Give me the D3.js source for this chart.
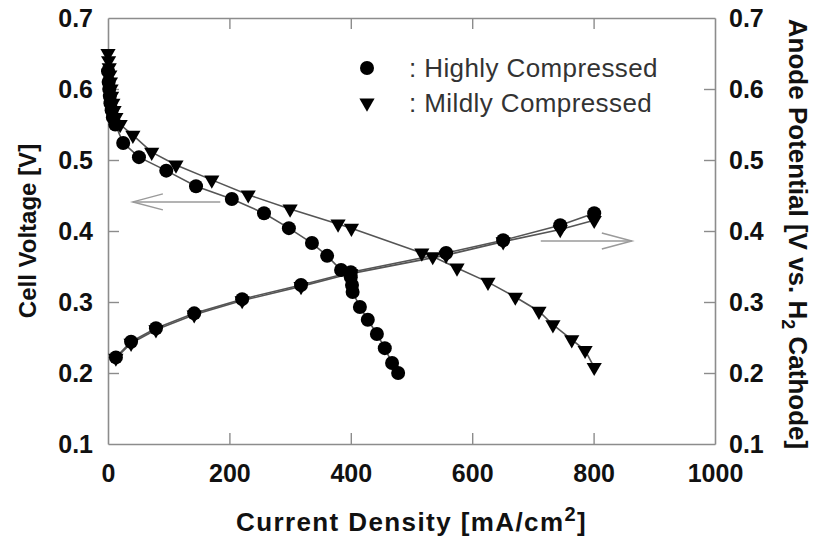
<!DOCTYPE html>
<html>
<head>
<meta charset="utf-8">
<script src="https://cdn.jsdelivr.net/npm/d3@7"></script>
<style>
  body { margin: 0; background: #fff; }
  svg { display: block; }
  text { font-family: "Liberation Sans", Arial, Helvetica, sans-serif; }
</style>
</head>
<body>
<div id="chart"></div>
<script>
// values (current density in mA/cm2, potentials in V)
var highlyCellI = [0, 1, 2, 3, 4, 6, 8, 12, 25, 51, 96, 145, 204, 257, 298, 336, 361, 384, 400, 402, 403, 415, 428, 443, 456, 468, 478];
var highlyCellV = [0.625, 0.61, 0.60, 0.59, 0.58, 0.57, 0.56, 0.55, 0.524, 0.504, 0.485, 0.463, 0.445, 0.425, 0.404, 0.383, 0.365, 0.345, 0.335, 0.324, 0.314, 0.293, 0.275, 0.255, 0.235, 0.214, 0.200];

var mildlyCellI = [0, 1, 2, 3, 4, 5, 6, 8, 10, 13, 20, 41, 72, 112, 171, 231, 300, 379, 401, 517, 535, 575, 626, 671, 710, 733, 764, 786, 801];
var mildlyCellV = [0.65, 0.64, 0.63, 0.62, 0.61, 0.60, 0.59, 0.58, 0.57, 0.56, 0.55, 0.535, 0.511, 0.493, 0.472, 0.451, 0.431, 0.410, 0.404, 0.369, 0.364, 0.348, 0.328, 0.307, 0.287, 0.268, 0.247, 0.232, 0.208];

var highlyAnodeI = [13, 38, 79, 142, 221, 318, 400, 557, 651, 745, 801];
var highlyAnodeV = [0.222, 0.244, 0.263, 0.284, 0.304, 0.324, 0.342, 0.369, 0.387, 0.408, 0.425];

var mildlyAnodeI = [13, 38, 79, 142, 221, 318, 400, 557, 651, 745, 801];
var mildlyAnodeV = [0.221, 0.242, 0.261, 0.282, 0.302, 0.322, 0.340, 0.366, 0.385, 0.402, 0.415];

var xTicks = [0, 200, 400, 600, 800, 1000];
var yTicks = [0.1, 0.2, 0.3, 0.4, 0.5, 0.6, 0.7];

var legendLabels = [": Highly Compressed", ": Mildly Compressed"];

var width = 819, height = 552;
var margin = {left: 108, right: 104, top: 18, bottom: 108};

var svg = d3.select("#chart").append("svg")
    .attr("width", width)
    .attr("height", height);

var x = d3.scaleLinear().domain([0, 1000]).range([margin.left, width - margin.right]);
var y = d3.scaleLinear().domain([0.1, 0.7]).range([height - margin.bottom, margin.top]);

// turn the pairs of arrays into point lists
function pts(xs, ys) {
    return xs.map(function (d, i) { return {i: d, v: ys[i]}; });
}

var hCell = pts(highlyCellI, highlyCellV);
var mCell = pts(mildlyCellI, mildlyCellV);
var hAn = pts(highlyAnodeI, highlyAnodeV);
var mAn = pts(mildlyAnodeI, mildlyAnodeV);

/*** frame and ticks ***/
var axisCol = "#8c8c8c";
var tickLen = 11;

var axB = svg.append("g").attr("transform", "translate(0," + y(0.1) + ")")
    .call(d3.axisBottom(x).tickValues(xTicks).tickSizeInner(-tickLen).tickSizeOuter(0).tickPadding(20).tickFormat(d3.format("d")));
var axT = svg.append("g").attr("transform", "translate(0," + y(0.7) + ")")
    .call(d3.axisTop(x).tickValues(xTicks).tickSizeInner(-tickLen).tickSizeOuter(0).tickFormat(""));
var axL = svg.append("g").attr("transform", "translate(" + x(0) + ",0)")
    .call(d3.axisLeft(y).tickValues(yTicks).tickSizeInner(-tickLen).tickSizeOuter(0).tickPadding(15).tickFormat(d3.format(".1f")));
var axR = svg.append("g").attr("transform", "translate(" + x(1000) + ",0)")
    .call(d3.axisRight(y).tickValues(yTicks).tickSizeInner(-tickLen).tickSizeOuter(0).tickPadding(14).tickFormat(d3.format(".1f")));

[axB, axT, axL, axR].forEach(function (g) {
    g.select(".domain").attr("stroke", axisCol).attr("stroke-width", 1.6);
    g.selectAll(".tick line").attr("stroke", axisCol).attr("stroke-width", 1.4);
    g.selectAll(".tick text")
        .attr("fill", "#111")
        .attr("font-size", 25)
        .attr("font-weight", "bold")
        .attr("font-family", "Liberation Sans, Arial, sans-serif");
});
// hide the ticks that sit on the corners
axB.selectAll(".tick line").filter(function (d) { return d == 0 || d == 1000; }).remove();
axT.selectAll(".tick line").filter(function (d) { return d == 0 || d == 1000; }).remove();
axL.selectAll(".tick line").filter(function (d) { return d == 0.1 || d == 0.7; }).remove();
axR.selectAll(".tick line").filter(function (d) { return d == 0.1 || d == 0.7; }).remove();

/*** arrows ***/
function arrow(x0, x1, v) {
    var g = svg.append("g").attr("stroke", "#9a9a9a").attr("stroke-width", 1.5).attr("fill", "none");
    var dir = x1 > x0 ? -1 : 1;
    g.append("line").attr("x1", x(x0)).attr("x2", x(x1)).attr("y1", y(v)).attr("y2", y(v));
    g.append("path").attr("d",
        "M" + (x(x1) + dir * 30) + "," + (y(v) - 8) +
        "L" + x(x1) + "," + y(v) +
        "L" + (x(x1) + dir * 30) + "," + (y(v) + 8));
}
arrow(185, 41, 0.441);
arrow(713, 863, 0.386);

/*** lines ***/
var line = d3.line().x(function (d) { return x(d.i); }).y(function (d) { return y(d.v); });

[hCell, mCell, hAn, mAn].forEach(function (s) {
    svg.append("path").datum(s)
        .attr("d", line)
        .attr("fill", "none")
        .attr("stroke", "#555")
        .attr("stroke-width", 1.6);
});

/*** markers ***/
var tri = d3.symbol().type(d3.symbolTriangle).size(100);

function triangles(s) {
    svg.append("g").selectAll("path").data(s).enter().append("path")
        .attr("d", tri)
        .attr("fill", "#000")
        .attr("transform", function (d) { return "translate(" + x(d.i) + "," + y(d.v) + ") rotate(180)"; });
}
function circles(s) {
    svg.append("g").selectAll("circle").data(s).enter().append("circle")
        .attr("cx", function (d) { return x(d.i); })
        .attr("cy", function (d) { return y(d.v); })
        .attr("r", 7)
        .attr("fill", "#000");
}
triangles(mAn);
triangles(mCell);
circles(hAn);
circles(hCell);

/*** legend ***/
var leg = svg.append("g").attr("transform", "translate(367,68)");
leg.append("circle").attr("cx", 0).attr("cy", 0).attr("r", 7).attr("fill", "#000");
leg.append("path").attr("d", tri).attr("fill", "#000").attr("transform", "translate(0,35) rotate(180)");
leg.selectAll("text").data(legendLabels).enter().append("text")
    .attr("x", 42)
    .attr("y", function (d, i) { return i * 35; })
    .attr("dy", "0.35em")
    .attr("font-size", 26)
    .attr("letter-spacing", 0.4)
    .attr("fill", "#333")
    .text(function (d) { return d; });

/*** axis titles ***/
var xt = svg.append("text")
    .attr("x", (x(0) + x(1000)) / 2)
    .attr("y", 531)
    .attr("text-anchor", "middle")
    .attr("font-size", 26)
    .attr("letter-spacing", 1.4)
    .attr("font-weight", "bold")
    .attr("fill", "#111");
xt.append("tspan").text("Current Density [mA/cm");
xt.append("tspan").attr("dy", -10).attr("font-size", 20).text("2");
xt.append("tspan").attr("dy", 10).text("]");

svg.append("text")
    .attr("transform", "translate(36," + (y(0.4)) + ") rotate(-90)")
    .attr("text-anchor", "middle")
    .attr("font-size", 24)
    .attr("font-weight", "bold")
    .attr("fill", "#111")
    .text("Cell Voltage [V]");

var rt = svg.append("text")
    .attr("transform", "translate(789," + (y(0.4) + 3) + ") rotate(90)")
    .attr("text-anchor", "middle")
    .attr("font-size", 26)
    .attr("font-weight", "bold")
    .attr("fill", "#111");
rt.append("tspan").text("Anode Potential [V vs. H");
rt.append("tspan").attr("dy", 7).attr("font-size", 18).text("2");
rt.append("tspan").attr("dy", -7).text(" Cathode]");
</script>
</body>
</html>
